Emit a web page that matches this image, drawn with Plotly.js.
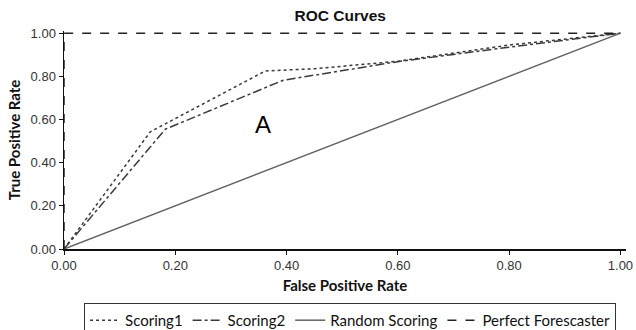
<!DOCTYPE html>
<html>
<head>
<meta charset="utf-8">
<script src="https://cdn.plot.ly/plotly-3.0.1.min.js"></script>
<style>html,body{margin:0;padding:0;background:#fff;}#chart{width:636px;height:330px;}</style>
</head>
<body>
<div id="chart"></div>
<script>
// Data
const scoring1X = [0, 0.155, 0.362, 0.45, 0.60, 0.80, 1.0];
const scoring1Y = [0, 0.543, 0.825, 0.835, 0.870, 0.945, 1.0];
const scoring2X = [0, 0.182, 0.394, 0.60, 0.80, 1.0];
const scoring2Y = [0, 0.555, 0.782, 0.868, 0.935, 1.0];
const randomX = [0, 1];
const randomY = [0, 1];
const perfectX = [0, 0, 1];
const perfectY = [0, 1, 1];
const tickVals = [0, 0.2, 0.4, 0.6, 0.8, 1.0];
const tickText = ['0.00', '0.20', '0.40', '0.60', '0.80', '1.00'];

const traces = [
  {x: scoring1X, y: scoring1Y, name: 'Scoring1', mode: 'lines',
   line: {color: '#3a3a3a', width: 1.5, dash: 'dot'}},
  {x: scoring2X, y: scoring2Y, name: 'Scoring2', mode: 'lines',
   line: {color: '#3a3a3a', width: 1.5, dash: 'dashdot'}},
  {x: randomX, y: randomY, name: 'Random Scoring', mode: 'lines',
   line: {color: '#606060', width: 1.5, dash: 'solid'}},
  {x: perfectX, y: perfectY, name: 'Perfect Forescaster', mode: 'lines',
   line: {color: '#222222', width: 1.5, dash: 'dash'}}
];

const axisFont = {family: 'Liberation Sans, Arial, sans-serif', size: 13, color: '#333'};
const titleFont = {family: 'Lato, sans-serif', size: 15, color: '#111', weight: 'bold'};

const layout = {
  width: 636, height: 330,
  margin: {l: 64, r: 10, t: 31, b: 81, pad: 0, autoexpand: false},
  paper_bgcolor: '#fff', plot_bgcolor: '#fff',
  title: {text: '<b>ROC Curves</b>', font: {family: 'Liberation Sans, Arial, sans-serif', size: 15.5, color: '#111'},
          x: 0.535, xanchor: 'center', y: 0.952, yanchor: 'middle'},
  xaxis: {range: [0, 1.01], tickvals: tickVals, ticktext: tickText, showgrid: false, zeroline: false,
          showline: true, linecolor: '#111', linewidth: 1.5, ticks: 'outside', ticklen: 4, tickcolor: '#111',
          tickfont: axisFont, automargin: false, title: {text: 'False Positive Rate', font: titleFont, standoff: 8}},
  yaxis: {range: [0, 1.01], tickvals: tickVals, ticktext: tickText, showgrid: false, zeroline: false,
          showline: true, linecolor: '#111', linewidth: 1.5, ticks: 'outside', ticklen: 4, tickcolor: '#111',
          tickfont: axisFont, automargin: false, title: {text: 'True Positive Rate', font: titleFont, standoff: 6}},
  showlegend: true,
  legend: {orientation: 'h', x: 0.509, xanchor: 'center', yref: 'container', y: 0.082, yanchor: 'top',
           bordercolor: '#333', borderwidth: 1, font: {family: 'Lato, sans-serif', size: 15, color: '#111'},
           traceorder: 'normal'},
  annotations: [{x: 0.358, y: 0.579, xref: 'x', yref: 'y', text: 'A', showarrow: false,
                 font: {family: 'Liberation Sans, Arial, sans-serif', size: 24, color: '#000'}}]
};

Plotly.newPlot('chart', traces, layout, {displayModeBar: false, staticPlot: true});
</script>
</body>
</html>
